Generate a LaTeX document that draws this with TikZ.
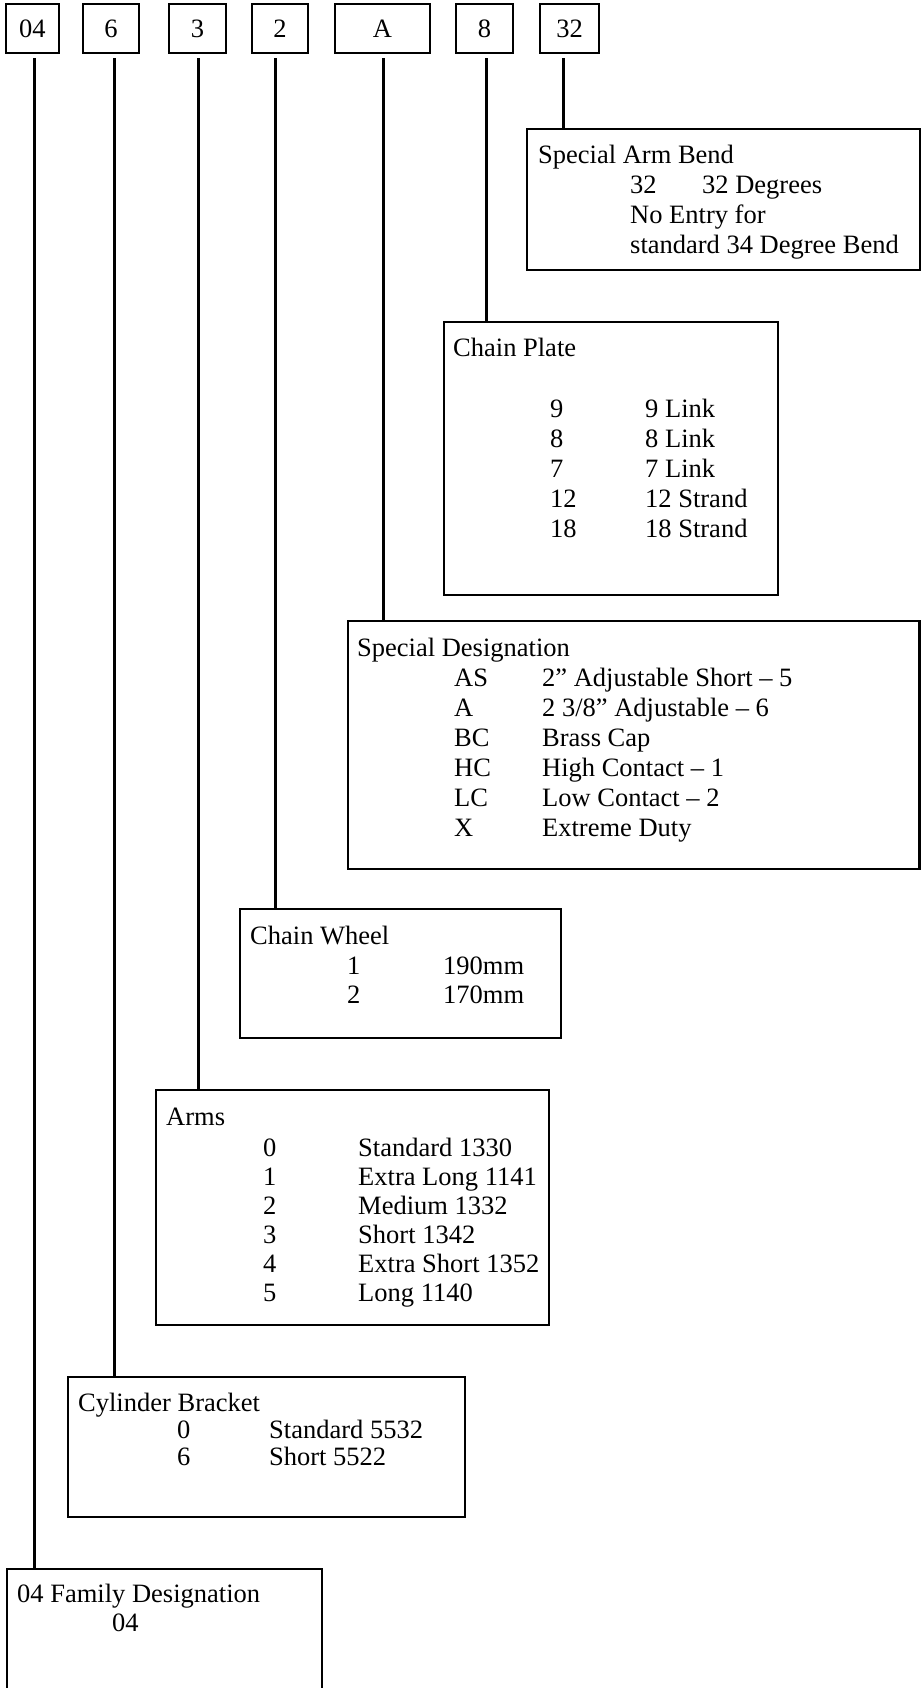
\documentclass[tikz,border=0pt]{standalone}
\usepackage{fontspec}
\setmainfont{Liberation Serif}
\newcommand\diagfont{\fontsize{26.5}{30}\selectfont}
\newcommand\tworow[3]{\makebox[#1][l]{#2}#3}
\begin{document}
\begin{tikzpicture}[x=1pt,y=-1pt,
  codebox/.style={draw, line width=2.8pt, minimum height=49pt, inner sep=0pt, font=\diagfont},
  infobox/.style={draw, line width=2.8pt, inner sep=0pt},
  txt/.style={anchor=base west, inner sep=0pt, font=\diagfont},
  conn/.style={draw, line width=3pt}]
\useasboundingbox (0,0) rectangle (921,1688);
\clip (0,0) rectangle (921,1688);

% top code boxes
\node[codebox, minimum width=53pt] (t04) at (32.5,28.5) {04};
\node[codebox, minimum width=56pt] (t6)  at (111,28.5) {6};
\node[codebox, minimum width=57pt] (t3)  at (197.5,28.5) {3};
\node[codebox, minimum width=56pt] (t2)  at (280,28.5) {2};
\node[codebox, minimum width=95pt] (tA)  at (382.5,28.5) {A};
\node[codebox, minimum width=57pt] (t8)  at (484.5,28.5) {8};
\node[codebox, minimum width=59pt] (t32) at (569.5,28.5) {32};

% description boxes
\node[infobox, minimum width=393pt, minimum height=141pt] (sab) at (723.5,199.5) {};
\node[infobox, minimum width=334pt, minimum height=273pt] (cp) at (611,458.5) {};
\node[infobox, minimum width=571.5pt, minimum height=248pt] (sd) at (633.75,745) {};
\node[infobox, minimum width=321pt, minimum height=129pt] (cw) at (400.5,973.5) {};
\node[infobox, minimum width=393pt, minimum height=235pt] (arms) at (352.5,1207.5) {};
\node[infobox, minimum width=397pt, minimum height=140pt] (cb) at (266.5,1447) {};
\node[infobox, minimum width=315pt, minimum height=131pt] (fam) at (164.5,1634.5) {};

% connectors (start a little below each code box)
\path[conn] ([xshift=1.5pt,yshift=-4pt]t04.south) -- ([xshift=1.5pt]t04.south |- fam.north);
\path[conn] ([xshift=3.5pt,yshift=-4pt]t6.south) -- ([xshift=3.5pt]t6.south |- cb.north);
\path[conn] ([xshift=0.5pt,yshift=-4pt]t3.south) -- ([xshift=0.5pt]t3.south |- arms.north);
\path[conn] ([xshift=-5pt,yshift=-4pt]t2.south) -- ([xshift=-5pt]t2.south |- cw.north);
\path[conn] ([xshift=0.5pt,yshift=-4pt]tA.south) -- ([xshift=0.5pt]tA.south |- sd.north);
\path[conn] ([xshift=1.5pt,yshift=-4pt]t8.south) -- ([xshift=1.5pt]t8.south |- cp.north);
\path[conn] ([xshift=-6.5pt,yshift=-4pt]t32.south) -- ([xshift=-6.5pt]t32.south |- sab.north);

% Special Arm Bend
\node[txt] (sabt) at (538,164) {Special Arm Bend};
\node[txt] (sab1) at (630,194) {\tworow{72pt}{32}{32 Degrees}};
\node[txt] (sab2) at (630,224) {No Entry for};
\node[txt] (sab3) at (630,254) {standard 34 Degree Bend};

% Chain Plate
\node[txt] (cpt) at (453,356) {Chain Plate};
\foreach \yy/\aa/\bb [count=\i] in {417/9/9 Link, 447/8/8 Link, 477/7/7 Link, 507/12/12 Strand, 537/18/18 Strand}
  \node[txt] (cp\i) at (550,\yy) {\tworow{95pt}{\aa}{\bb}};

% Special Designation
\node[txt] (sdt) at (357,656) {Special Designation};
\foreach \yy/\aa/\bb [count=\i] in {686/AS/2” Adjustable Short – 5, 716/A/2 3\slash 8” Adjustable – 6, 746/BC/Brass Cap, 776/HC/High Contact – 1, 806/LC/Low Contact – 2, 836/X/Extreme Duty}
  \node[txt] (sd\i) at (454,\yy) {\tworow{88pt}{\aa}{\bb}};

% Chain Wheel
\node[txt] (cwt) at (250,944) {Chain Wheel};
\node[txt] (cw1) at (347,974) {\tworow{96pt}{1}{190mm}};
\node[txt] (cw2) at (347,1003) {\tworow{96pt}{2}{170mm}};

% Arms
\node[txt] (armst) at (166,1125) {Arms};
\foreach \yy/\aa/\bb [count=\i] in {1156/0/Standard 1330, 1185/1/Extra Long 1141, 1214/2/Medium 1332, 1243/3/Short 1342, 1272/4/Extra Short 1352, 1301/5/Long 1140}
  \node[txt] (arms\i) at (263,\yy) {\tworow{95pt}{\aa}{\bb}};

% Cylinder Bracket
\node[txt] (cbt) at (78,1411) {Cylinder Bracket};
\node[txt] (cb1) at (177,1438) {\tworow{92pt}{0}{Standard 5532}};
\node[txt] (cb2) at (177,1465) {\tworow{92pt}{6}{Short 5522}};

% 04 Family Designation
\node[txt] (famt) at (17,1602) {04 Family Designation};
\node[txt] (fam1) at (112,1631) {04};
\end{tikzpicture}
\end{document}
